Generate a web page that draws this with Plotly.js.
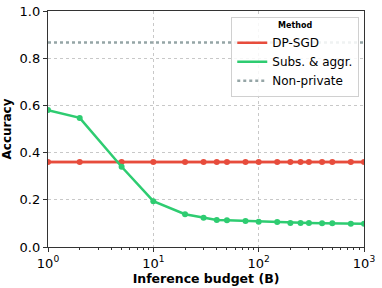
<!DOCTYPE html>
<html><head><meta charset="utf-8">
<script src="https://cdn.plot.ly/plotly-3.0.1.min.js"></script>
<style>html,body{margin:0;padding:0;background:#fff}#c{width:382px;height:288px}</style>
</head><body><div id="c"></div>
<script>
const budgets = [1, 2, 5, 10, 20, 30, 40, 50, 75, 100, 150, 200, 250, 300, 400, 500, 750, 1000];
const dpsgd = [0.36, 0.36, 0.36, 0.36, 0.36, 0.36, 0.36, 0.36, 0.36, 0.36, 0.36, 0.36, 0.36, 0.36, 0.36, 0.36, 0.36, 0.36];
const dpsgdLo = [0.352, 0.352, 0.352, 0.352, 0.352, 0.352, 0.352, 0.352, 0.352, 0.352, 0.352, 0.352, 0.352, 0.352, 0.352, 0.352, 0.352, 0.352];
const dpsgdHi = [0.368, 0.368, 0.368, 0.368, 0.368, 0.368, 0.368, 0.368, 0.368, 0.368, 0.368, 0.368, 0.368, 0.368, 0.368, 0.368, 0.368, 0.368];
const subsAggr = [0.58, 0.547, 0.34, 0.194, 0.139, 0.124, 0.114, 0.113, 0.110, 0.107, 0.106, 0.102, 0.102, 0.102, 0.101, 0.101, 0.099, 0.098];
const nonPrivateX = [1, 1000];
const nonPrivate = [0.866, 0.866];
const xTickVals = [1, 10, 100, 1000];
const xTickText = ['10<sup>0</sup>', '10<sup>1</sup>', '10<sup>2</sup>', '10<sup>3</sup>'];
const xMinorVals = [2, 3, 4, 5, 6, 7, 8, 9, 20, 30, 40, 50, 60, 70, 80, 90, 200, 300, 400, 500, 600, 700, 800, 900];

const red = '#e74c3c', green = '#2ecc71', gray = '#95a5a6';
const traces = [
  {x: budgets, y: dpsgdLo, mode: 'lines', line: {width: 0}, showlegend: false, hoverinfo: 'skip'},
  {x: budgets, y: dpsgdHi, mode: 'lines', line: {width: 0}, fill: 'tonexty', fillcolor: 'rgba(231,76,60,0.25)', showlegend: false, hoverinfo: 'skip'},
  {x: budgets, y: dpsgd, mode: 'lines+markers', showlegend: false, line: {color: red, width: 2.5}, marker: {color: red, size: 6}},
  {x: budgets, y: subsAggr, mode: 'lines+markers', showlegend: false, line: {color: green, width: 2.5}, marker: {color: green, size: 6}},
  {x: nonPrivateX, y: nonPrivate, mode: 'lines', showlegend: false, line: {color: gray, width: 2.5, dash: 'dot'}},
  {x: [null], y: [null], mode: 'lines', name: 'DP-SGD', line: {color: red, width: 2.5}},
  {x: [null], y: [null], mode: 'lines', name: 'Subs. & aggr.', line: {color: green, width: 2.5}},
  {x: [null], y: [null], mode: 'lines', name: 'Non-private', line: {color: gray, width: 2.5, dash: 'dot'}}
];
const layout = {
  width: 382, height: 288,
  margin: {l: 48, r: 18, t: 11, b: 41},
  paper_bgcolor: '#fff', plot_bgcolor: '#fff',
  font: {family: 'DejaVu Sans', size: 12, color: '#000'},
  showlegend: true,
  legend: {
    x: 0.985, y: 0.975, xanchor: 'right', yanchor: 'top', traceorder: 'normal',
    bgcolor: 'rgba(255,255,255,0.85)', bordercolor: '#d0d0d0', borderwidth: 1,
    font: {size: 12}, tracegroupgap: 0,
    title: {text: '<b>Method</b>', side: 'top center', font: {size: 8}}
  },
  xaxis: {
    type: 'log', range: [0, 3], tickvals: xTickVals, ticktext: xTickText,
    showline: true, linecolor: '#333', linewidth: 1.2, mirror: true,
    ticks: 'outside', ticklen: 4, tickcolor: '#333',
    minor: {tickvals: xMinorVals, ticks: 'outside', ticklen: 2, tickcolor: '#333', showgrid: false},
    showgrid: true, gridcolor: '#c8c8c8', griddash: 'dot', gridwidth: 1,
    zeroline: false,
    title: {text: '<b>Inference budget (B)</b>', font: {size: 12.5}, standoff: 0},
    tickfont: {size: 13}
  },
  yaxis: {
    range: [0, 1], dtick: 0.2, tickformat: '.1f',
    showline: true, linecolor: '#333', linewidth: 1.2, mirror: true,
    ticks: 'outside', ticklen: 4, tickcolor: '#333',
    showgrid: true, gridcolor: '#c8c8c8', griddash: 'dot', gridwidth: 1,
    zeroline: false,
    title: {text: '<b>Accuracy</b>', font: {size: 12}, standoff: 5},
    tickfont: {size: 13}
  }
};
Plotly.newPlot('c', traces, layout, {displayModeBar: false, staticPlot: true});
</script></body></html>
